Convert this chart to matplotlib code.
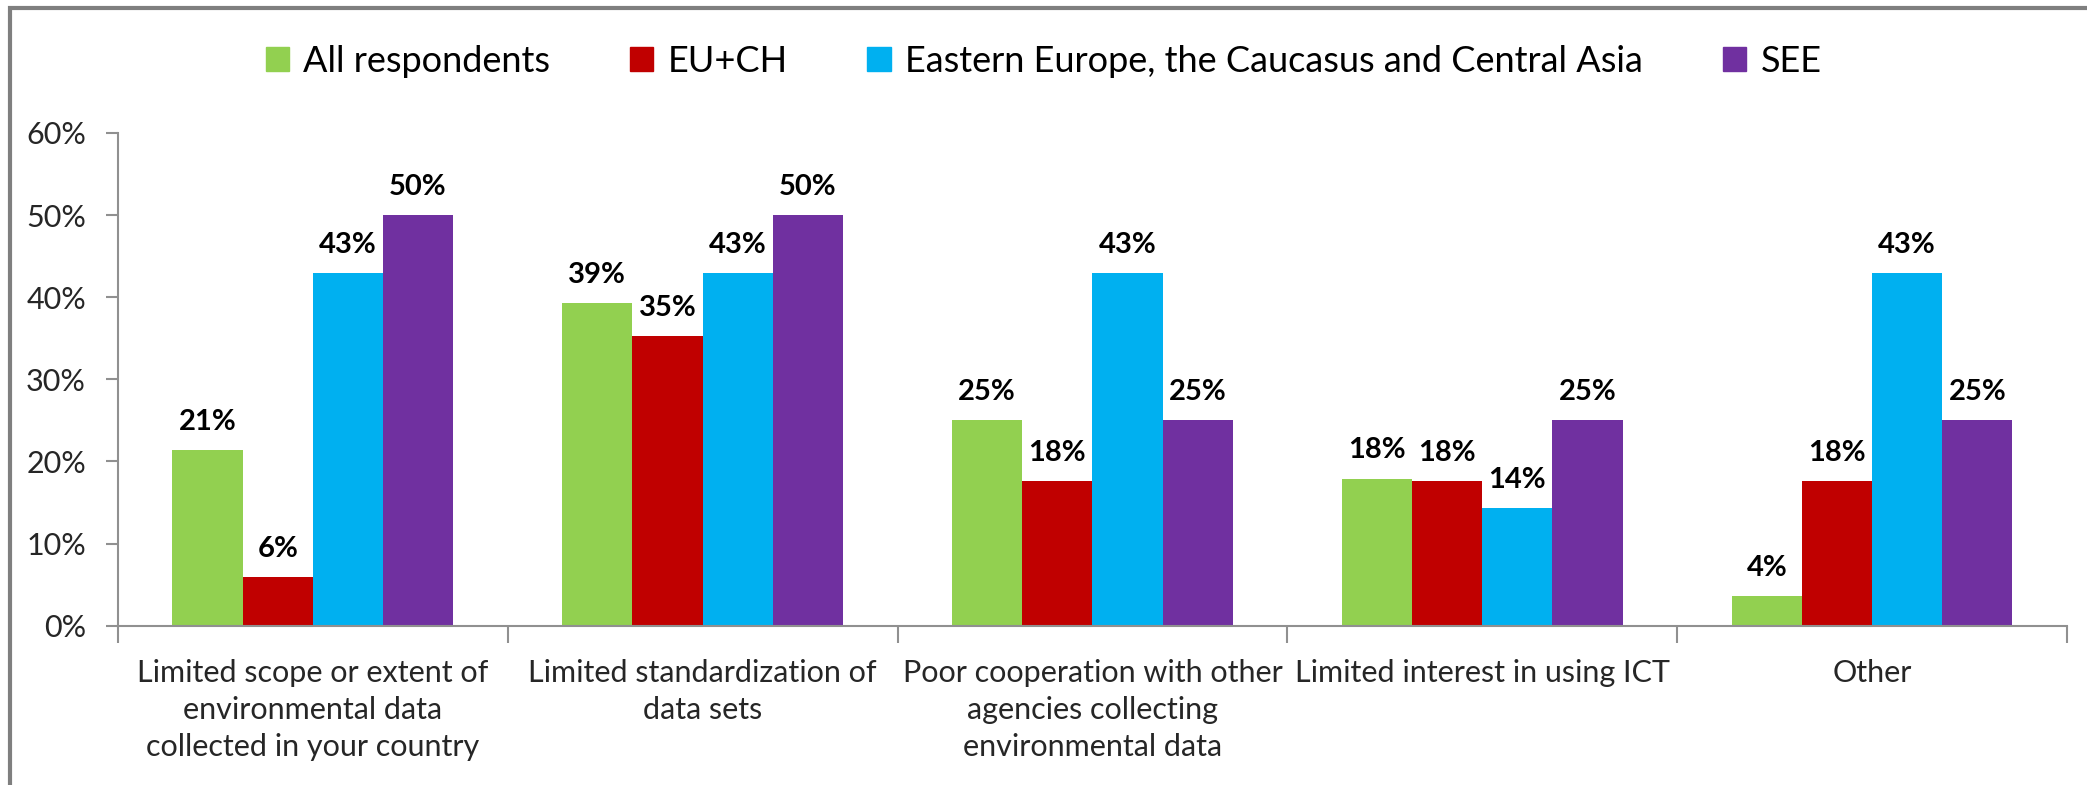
import matplotlib
matplotlib.use("Agg")
import matplotlib.pyplot as plt
import numpy as np
from matplotlib.patches import Rectangle, Patch

plt.rcParams["font.family"] = ["Lato", "DejaVu Sans"]

categories = [
    "Limited scope or extent of\nenvironmental data\ncollected in your country",
    "Limited standardization of\ndata sets",
    "Poor cooperation with other\nagencies collecting\nenvironmental data",
    "Limited interest in using ICT",
    "Other",
]
series_names = ["All respondents", "EU+CH",
                "Eastern Europe, the Caucasus and Central Asia", "SEE"]
all_resp = [21.4, 39.3, 25.0, 17.9, 3.6]
eu_ch = [5.9, 35.3, 17.6, 17.6, 17.6]
eeca = [42.9, 42.9, 42.9, 14.3, 42.9]
see = [50.0, 50.0, 25.0, 25.0, 25.0]
colors = ["#92D050", "#C00000", "#00B0F0", "#7030A0"]

fig = plt.figure(figsize=(20.87, 7.85), dpi=100)
ax = fig.add_axes([0.0565, 0.203, 0.9339, 0.6276])

x = np.arange(len(categories))
w = 0.18
for i, vals in enumerate([all_resp, eu_ch, eeca, see]):
    bars = ax.bar(x + (i - 1.5) * w, vals, w, color=colors[i], label=series_names[i])
    for b, v in zip(bars, vals):
        ax.annotate(f"{v:.0f}%", (b.get_x() + b.get_width() / 2, v),
                    xytext=(0, 11), textcoords="offset points",
                    ha="center", va="bottom", fontsize=21, fontweight="bold")

ax.set_xlim(-0.5, len(categories) - 0.5)
ax.set_ylim(0, 60)
ax.set_yticks(range(0, 61, 10))
ax.set_yticklabels([f"{t}%" for t in range(0, 61, 10)], fontsize=22, color="#262626")
ax.set_xticks(x)
ax.set_xticklabels(categories, fontsize=22, color="#262626", linespacing=1.4)
ax.set_xticks(np.arange(-0.5, len(categories)), minor=True)
ax.tick_params(axis="x", which="major", length=0, pad=24)
ax.tick_params(axis="x", which="minor", length=12, width=1.5, color="#909090")
ax.tick_params(axis="y", length=9, width=1.5, color="#909090", pad=14)
for s in ["top", "right"]:
    ax.spines[s].set_visible(False)
for s in ["left", "bottom"]:
    ax.spines[s].set_color("#909090")
    ax.spines[s].set_linewidth(1.5)

handles = [Patch(color=c) for c in colors]
fig.legend(handles, series_names, loc="center", bbox_to_anchor=(0.5, 0.922),
           ncol=4, frameon=False, fontsize=26, handlelength=0.65, handleheight=0.65,
           handletextpad=0.4, columnspacing=2.2)

fig.patches.append(Rectangle((0.005, -0.5), 2.0, 1.49, transform=fig.transFigure,
                             fill=False, edgecolor="#7f7f7f", linewidth=3))

fig.savefig("out.png", dpi=100)
